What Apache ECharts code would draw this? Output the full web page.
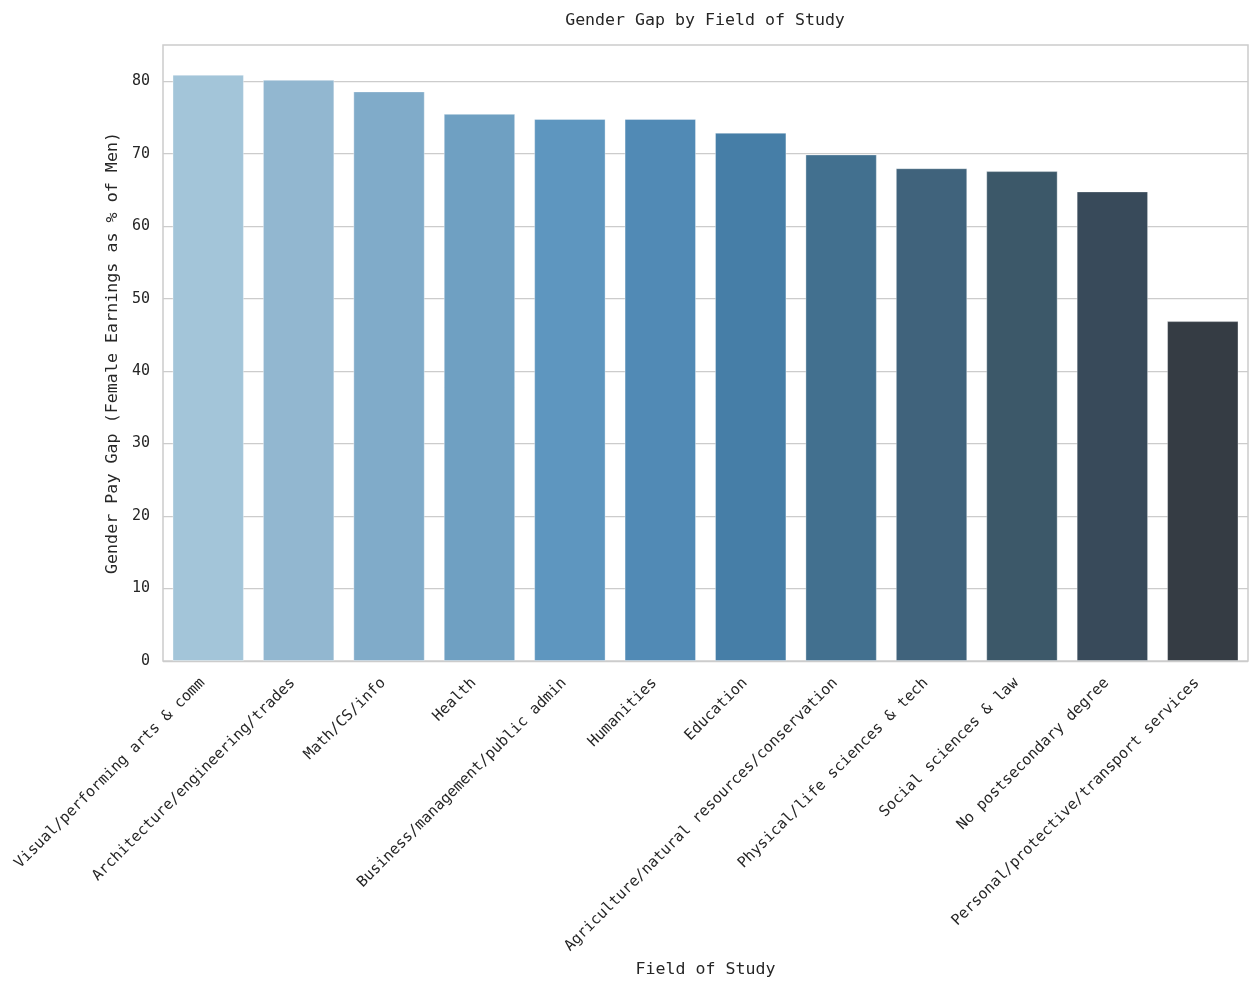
<!DOCTYPE html>
<html>
<head>
<meta charset="utf-8">
<script src="https://cdn.jsdelivr.net/npm/echarts@6/dist/echarts.min.js"></script>
<style>html,body{margin:0;padding:0;background:#fff;}#c{width:1257px;height:989px;}</style>
</head>
<body>
<div id="c"></div>
<script>
const categories = [
  "Visual/performing arts & comm",
  "Architecture/engineering/trades",
  "Math/CS/info",
  "Health",
  "Business/management/public admin",
  "Humanities",
  "Education",
  "Agriculture/natural resources/conservation",
  "Physical/life sciences & tech",
  "Social sciences & law",
  "No postsecondary degree",
  "Personal/protective/transport services"
];
const values = [80.9, 80.2, 78.6, 75.5, 74.8, 74.8, 72.9, 69.9, 68.0, 67.6, 64.8, 46.9];
const colors = ["#a3c5d9","#92b7d0","#80abc9","#6fa0c2","#5e96bf","#518ab5","#467ea7","#42708f","#40637c","#3c5869","#384a5a","#353c44"];

const font = "DejaVu Sans Mono";
const chart = echarts.init(document.getElementById('c'), null, {renderer: 'canvas'});
chart.setOption({
  backgroundColor: '#ffffff',
  animation: false,
  title: {
    text: 'Gender Gap by Field of Study',
    left: 700, top: 7, textAlign: 'center',
    textStyle: {fontFamily: font, fontSize: 16.6, fontWeight: 'normal', color: '#262626'}
  },
  grid: {left: 163, right: 9, top: 45, bottom: 328, show: true, borderColor: '#cccccc', borderWidth: 1.5, containLabel: false},
  xAxis: {
    type: 'category',
    data: categories,
    name: 'Field of Study',
    nameLocation: 'middle',
    nameGap: 300,
    nameTextStyle: {fontFamily: font, fontSize: 16.6, color: '#262626'},
    axisLine: {show: false},
    axisTick: {show: false},
    axisLabel: {rotate: 45, interval: 0, margin: 14, padding: [0, 8, 0, 0], fontFamily: font, fontSize: 15, color: '#262626'},
    splitLine: {show: false}
  },
  yAxis: {
    type: 'value',
    min: 0, max: 85, interval: 10,
    name: 'Gender Pay Gap (Female Earnings as % of Men)',
    nameLocation: 'middle',
    nameGap: 35,
    nameRotate: 90,
    nameTextStyle: {fontFamily: font, fontSize: 16.7, color: '#262626'},
    axisLine: {show: false},
    axisTick: {show: false},
    axisLabel: {
      margin: 13, fontFamily: font, fontSize: 15, color: '#262626',
      formatter: v => (v % 10 === 0 ? String(v) : '')
    },
    splitLine: {show: true, showMaxLine: false, lineStyle: {color: '#cccccc', width: 1.25}}
  },
  series: [{
    type: 'bar',
    data: values.map((v, i) => ({value: v, itemStyle: {color: colors[i]}})),
    barWidth: '79%',
    itemStyle: {borderColor: 'rgba(255,255,255,0.35)', borderWidth: 1}
  }]
});
</script>
</body>
</html>
